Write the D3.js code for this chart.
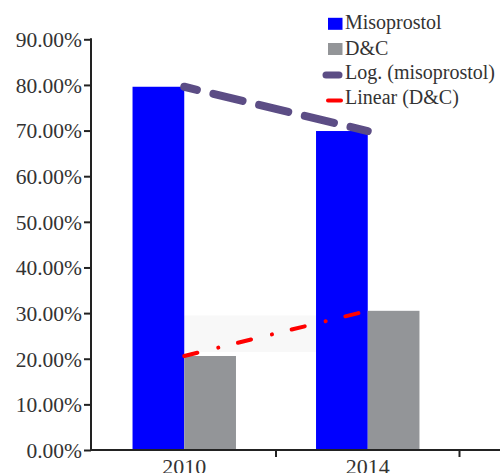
<!DOCTYPE html>
<html>
<head>
<meta charset="utf-8">
<script src="https://cdn.jsdelivr.net/npm/d3@7"></script>
<style>
  html, body { margin: 0; padding: 0; background: #fff; }
  svg { display: block; }
</style>
</head>
<body>
<svg id="chart" width="500" height="473"></svg>
<script>
// ---- data ----
const categories = ["2010", "2014"];
const seriesNames = ["Misoprostol", "D&C"];
const misoprostol = [0.796, 0.699];
const dc = [0.206, 0.305];
const yTicks = [0, 0.1, 0.2, 0.3, 0.4, 0.5, 0.6, 0.7, 0.8, 0.9];
const legendLabels = ["Misoprostol", "D&C", "Log. (misoprostol)", "Linear (D&C)"];

// ---- layout ----
const W = 500, H = 473;
const axisX = 91, axisY = 450, topY = 39.3;
const svg = d3.select("#chart");
const font = "'Liberation Serif', 'Times New Roman', serif";
const colors = { miso: "#0000ff", dc: "#939598", log: "#5c4d85", lin: "#ff0000" };

const x = d3.scaleBand().domain(categories).range([92.5, 459.5]).padding(0);
const x1 = d3.scaleBand().domain(seriesNames).range([0, x.bandwidth()]).paddingInner(0).paddingOuter(0.774);
const y = d3.scaleLinear().domain([0, 0.9]).range([axisY, topY]);

const seriesData = [misoprostol, dc];
const seriesColors = [colors.miso, colors.dc];

// faint shading artifact behind the linear trendline
svg.append("rect")
  .attr("x", x(categories[0]) + x.bandwidth() / 2)
  .attr("y", y(0.295))
  .attr("width", (x(categories[1]) + x1(seriesNames[0])) - (x(categories[0]) + x.bandwidth() / 2))
  .attr("height", y(0.215) - y(0.295))
  .attr("fill", "#f8f8f8");

// bars
seriesNames.forEach((s, si) => {
  svg.append("g").selectAll("rect")
    .data(categories)
    .join("rect")
    .attr("x", c => x(c) + x1(s))
    .attr("y", (c, i) => y(seriesData[si][i]))
    .attr("width", x1.bandwidth())
    .attr("height", (c, i) => y(0) - y(seriesData[si][i]))
    .attr("fill", seriesColors[si]);
});

// trendlines (two points → exact fit)
const cx = c => x(c) + x.bandwidth() / 2;
const line = d3.line().x(d => cx(d[0])).y(d => y(d[1]));

svg.append("path")
  .datum(categories.map((c, i) => [c, misoprostol[i]]))
  .attr("d", line)
  .attr("fill", "none")
  .attr("stroke", colors.log)
  .attr("stroke-width", 8)
  .attr("stroke-linecap", "round")
  .attr("stroke-dasharray", "30,17")
  .attr("stroke-dashoffset", 17);

svg.append("path")
  .datum(categories.map((c, i) => [c, dc[i]]))
  .attr("d", line)
  .attr("fill", "none")
  .attr("stroke", colors.lin)
  .attr("stroke-width", 4)
  .attr("stroke-linecap", "round")
  .attr("stroke-dasharray", "13.5,21.5,0.1,20.2");

// y axis
const yAxis = d3.axisLeft(y).tickValues(yTicks).tickFormat(d => d3.format(".2%")(d))
  .tickSizeInner(7).tickSizeOuter(0).tickPadding(2);
const gy = svg.append("g").attr("transform", `translate(${axisX},0)`).call(yAxis);
gy.select(".domain").attr("stroke", "#222").attr("stroke-width", 2)
  .attr("d", `M0,${axisY + 1}V${topY - 1}`);
gy.selectAll(".tick line").attr("stroke", "#222").attr("stroke-width", 2);
gy.selectAll(".tick text")
  .attr("font-family", font).attr("font-size", 21.5).attr("fill", "#333").attr("dy", "0.34em");

// x axis
const xAxis = d3.axisBottom(x).tickSize(0).tickPadding(8);
const gx = svg.append("g").attr("transform", `translate(0,${axisY})`).call(xAxis);
gx.select(".domain").attr("stroke", "#222").attr("stroke-width", 2)
  .attr("d", `M${axisX - 1},0H${W}`);
gx.selectAll(".tick text")
  .attr("font-family", font).attr("font-size", 22).attr("fill", "#333");
// separator ticks at band edges
gx.append("g").selectAll("line")
  .data(categories)
  .join("line")
  .attr("x1", c => x(c) + x.bandwidth()).attr("x2", c => x(c) + x.bandwidth())
  .attr("y1", 0).attr("y2", 7)
  .attr("stroke", "#222").attr("stroke-width", 2);

// legend
const lg = svg.append("g");
const rowY = [29.3, 54.5, 78.5, 104];
const textX = 345;
legendLabels.forEach((lab, i) => {
  const by = rowY[i];
  if (i < 2) {
    lg.append("rect").attr("x", 328).attr("y", by - 11.5).attr("width", 14.5).attr("height", 12)
      .attr("fill", seriesColors[i]);
  } else if (i === 2) {
    lg.append("line").attr("x1", 326).attr("x2", 339).attr("y1", by - 3.5).attr("y2", by - 3.5)
      .attr("stroke", colors.log).attr("stroke-width", 7).attr("stroke-linecap", "round");
  } else {
    lg.append("line").attr("x1", 328).attr("x2", 341).attr("y1", by - 3.5).attr("y2", by - 3.5)
      .attr("stroke", colors.lin).attr("stroke-width", 4).attr("stroke-linecap", "round");
  }
  lg.append("text").attr("x", textX).attr("y", by)
    .attr("font-family", font).attr("font-size", 20).attr("fill", "#333")
    .text(lab);
});
</script>
</body>
</html>
